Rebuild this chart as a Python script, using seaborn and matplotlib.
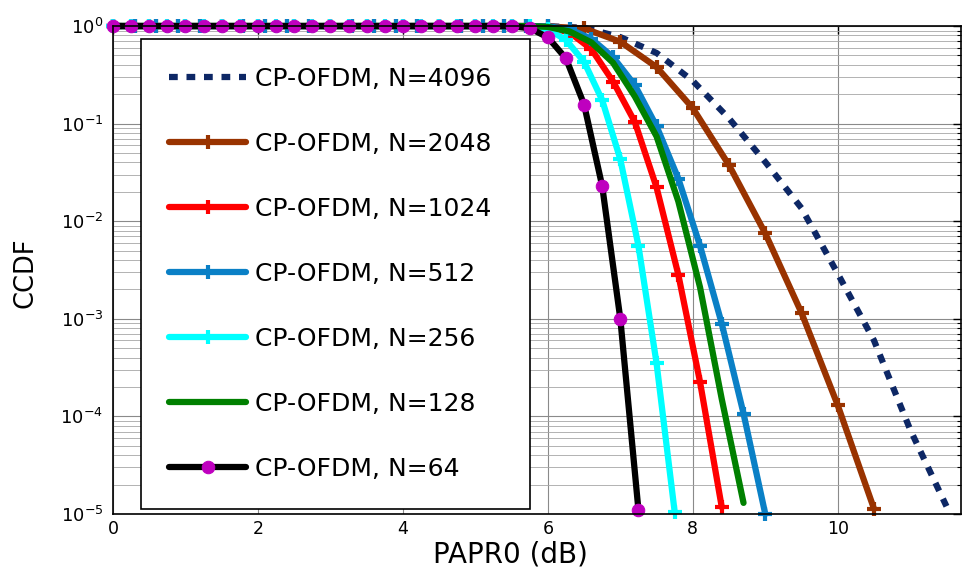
import matplotlib
matplotlib.use("Agg")
import matplotlib.pyplot as plt
import matplotlib.ticker as mtick
import seaborn as sns

sns.set_style("white")
plt.rcParams["font.family"] = ["DejaVu Sans"]
plt.rcParams["mathtext.fontset"] = "dejavusans"
plt.rcParams["text.color"] = "black"
plt.rcParams["axes.labelcolor"] = "black"
plt.rcParams["xtick.color"] = "black"
plt.rcParams["ytick.color"] = "black"

# values (PAPR0 in dB, CCDF)
x_4096 = [0, 5.5, 6.0, 6.5, 7.0, 7.5, 8.0, 8.5, 9.0, 9.5, 10.0, 10.5, 11.0, 11.5]
y_4096 = [1.0, 1.0, 0.995, 0.96, 0.77, 0.53, 0.274, 0.113, 0.0405, 0.0136,
          2.9e-3, 6.0e-4, 7.3e-5, 1.2e-5]

x_2048 = [0, 0.5, 1.0, 1.5, 2.0, 2.5, 3.0, 3.5, 4.0, 4.5, 5.0, 5.5,
          6.0, 6.5, 7.0, 7.5, 8.0, 8.5, 9.0, 9.5, 10.0, 10.5]
y_2048 = [1.0, 1.0, 1.0, 1.0, 1.0, 1.0, 1.0, 1.0, 1.0, 1.0, 1.0, 1.0,
          0.99, 0.946, 0.69, 0.38, 0.144, 0.0375, 7.5e-3, 1.15e-3, 1.3e-4, 1.13e-5]

x_1024 = [0, 0.3, 0.6, 0.9, 1.2, 1.5, 1.8, 2.1, 2.4, 2.7, 3.0, 3.3, 3.6, 3.9, 4.2,
          4.5, 4.8, 5.1, 5.4, 5.7, 6.0, 6.3, 6.6, 6.9, 7.2, 7.5, 7.8, 8.1, 8.4]
y_1024 = [1.0, 1.0, 1.0, 1.0, 1.0, 1.0, 1.0, 1.0, 1.0, 1.0, 1.0, 1.0, 1.0, 1.0, 1.0,
          1.0, 1.0, 1.0, 1.0, 1.0, 0.97, 0.86, 0.58, 0.27, 0.104, 0.0222,
          2.84e-3, 2.25e-4, 1.17e-5]

x_512 = [0, 0.3, 0.6, 0.9, 1.2, 1.5, 1.8, 2.1, 2.4, 2.7, 3.0, 3.3, 3.6, 3.9, 4.2,
         4.5, 4.8, 5.1, 5.4, 5.7, 6.0, 6.3, 6.6, 6.9, 7.2, 7.5, 7.8, 8.1, 8.4, 8.7, 9.0]
y_512 = [1.0, 1.0, 1.0, 1.0, 1.0, 1.0, 1.0, 1.0, 1.0, 1.0, 1.0, 1.0, 1.0, 1.0, 1.0,
         1.0, 1.0, 1.0, 1.0, 1.0, 0.99, 0.93, 0.74, 0.48, 0.248, 0.094, 0.0274,
         5.6e-3, 8.9e-4, 1.07e-4, 1.0e-5]

x_256 = [0, 0.25, 0.5, 0.75, 1.0, 1.25, 1.5, 1.75, 2.0, 2.25, 2.5, 2.75, 3.0, 3.25,
         3.5, 3.75, 4.0, 4.25, 4.5, 4.75, 5.0, 5.25, 5.5, 5.75, 6.0, 6.25, 6.5,
         6.75, 7.0, 7.25, 7.5, 7.75]
y_256 = [1.0, 1.0, 1.0, 1.0, 1.0, 1.0, 1.0, 1.0, 1.0, 1.0, 1.0, 1.0, 1.0, 1.0,
         1.0, 1.0, 1.0, 1.0, 1.0, 1.0, 1.0, 1.0, 1.0, 0.99, 0.93, 0.72, 0.43,
         0.174, 0.043, 5.6e-3, 3.5e-4, 1.05e-5]

x_128 = [0, 5.7, 6.0, 6.3, 6.6, 6.9, 7.2, 7.5, 7.8, 8.1, 8.4, 8.7]
y_128 = [1.0, 1.0, 0.98, 0.88, 0.68, 0.42, 0.19, 0.074, 0.016, 2.1e-3, 1.5e-4, 1.3e-5]

x_64 = [0, 0.25, 0.5, 0.75, 1.0, 1.25, 1.5, 1.75, 2.0, 2.25, 2.5, 2.75, 3.0, 3.25,
        3.5, 3.75, 4.0, 4.25, 4.5, 4.75, 5.0, 5.25, 5.5, 5.75, 6.0, 6.25, 6.5,
        6.75, 7.0, 7.25]
y_64 = [1.0, 1.0, 1.0, 1.0, 1.0, 1.0, 1.0, 1.0, 1.0, 1.0, 1.0, 1.0, 1.0, 1.0,
        1.0, 1.0, 1.0, 1.0, 1.0, 1.0, 1.0, 1.0, 0.995, 0.95, 0.766, 0.466, 0.157,
        0.0229, 1.0e-3, 1.1e-5]

x_ticks = [0, 2, 4, 6, 8, 10]

LW = 4.5
plus = dict(marker="+", markersize=10, markeredgewidth=3)

series = [
    ("CP-OFDM, N=4096", x_4096, y_4096, dict(color="#0d2765", linestyle=(0, (1.4, 1.4)))),
    ("CP-OFDM, N=2048", x_2048, y_2048, dict(color="#993300", markeredgecolor="#993300", **plus)),
    ("CP-OFDM, N=1024", x_1024, y_1024, dict(color="#ff0000", markeredgecolor="#ff0000", **plus)),
    ("CP-OFDM, N=512", x_512, y_512, dict(color="#0a80c6", markeredgecolor="#0a80c6", **plus)),
    ("CP-OFDM, N=256", x_256, y_256, dict(color="#00ffff", markeredgecolor="#00ffff", **plus)),
    ("CP-OFDM, N=128", x_128, y_128, dict(color="#008000")),
    ("CP-OFDM, N=64", x_64, y_64, dict(color="#000000", marker="o", markersize=9,
                                        markerfacecolor="#bf00bf", markeredgecolor="#bf00bf")),
]

fig = plt.figure(figsize=(9.63, 5.71), dpi=100)
ax = fig.add_axes([0.1173, 0.0998, 0.8806, 0.8546])

for label, xs, ys, kw in series:
    sns.lineplot(x=xs, y=ys, ax=ax, label=label, estimator=None, sort=False,
                 linewidth=LW, clip_on=False, **kw)

ax.set_yscale("log")
ax.set_ylim(1e-5, 1)
ax.set_xlim(0, 11.7)
ax.set_xticks(x_ticks)
ax.yaxis.set_major_locator(mtick.LogLocator(base=10, numticks=10))
ax.yaxis.set_minor_locator(mtick.LogLocator(base=10, subs=range(2, 10), numticks=10))
ax.yaxis.set_minor_formatter(mtick.NullFormatter())

ax.grid(True, which="major", color="#8a8a8a", linewidth=0.8)
ax.grid(True, which="minor", axis="y", color="#a6a6a6", linewidth=0.6)
ax.set_axisbelow(True)

for s in ax.spines.values():
    s.set_color("black")
    s.set_linewidth(1.2)
    s.set_visible(True)

ax.tick_params(which="both", direction="in", top=True, right=True, colors="black")
ax.tick_params(which="major", length=6, width=1)
ax.tick_params(axis="x", which="major", pad=4, labelsize=12.5)
ax.tick_params(axis="y", which="major", pad=7, labelsize=13)
ax.tick_params(which="minor", length=3, width=0.8)

ax.set_xlabel("PAPR0 (dB)", fontsize=20)
ax.xaxis.set_label_coords(0.469, -0.054)
ax.set_ylabel("CCDF", fontsize=18.5)
ax.yaxis.set_label_coords(-0.088, 0.494)

leg = ax.legend(loc="upper left", bbox_to_anchor=(0.033, 0.0143, 0.4585, 0.959),
                mode="expand", borderaxespad=0, fontsize=18, frameon=True,
                fancybox=False, framealpha=1, edgecolor="black",
                handlelength=3.1, handletextpad=0.36, labelspacing=1.64,
                borderpad=1.12, numpoints=1)
leg.get_frame().set_linewidth(1.2)
for t in leg.get_texts():
    t.set_color("black")

fig.savefig("out.png", dpi=100)
